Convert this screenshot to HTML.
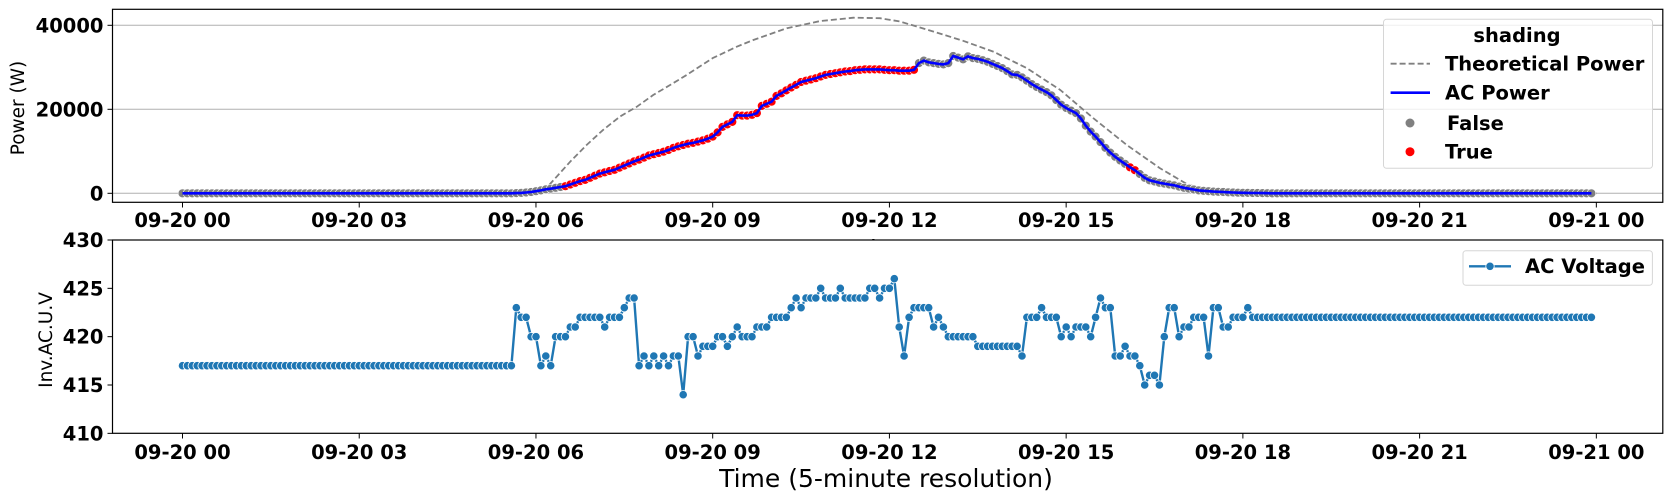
<!DOCTYPE html>
<html><head><meta charset="utf-8"><style>
html,body{margin:0;padding:0;background:#fff;}
svg{display:block;font-family:"DejaVu Sans","Liberation Sans",sans-serif;}
.tk{font-weight:bold;font-size:19.5px;fill:#000;}
</style></head>
<body>
<svg id="fig" width="1671" height="501" viewBox="0 0 1671 501">
<rect x="0" y="0" width="1671" height="501" fill="#fff"/>
<g id="topchart"></g>
<text x="886" y="258" text-anchor="middle" font-size="25">Time</text>
<g id="botchart"></g>
<text x="886" y="487" text-anchor="middle" font-size="25">Time (5-minute resolution)</text>
<text transform="translate(24,108) rotate(-90)" text-anchor="middle" font-size="18.5">Power (W)</text>
<text transform="translate(52,340) rotate(-90)" text-anchor="middle" font-size="18.5">Inv.AC.U.V</text>
</svg>
<script>
// ---- data (5-minute samples, index i -> hour i*5/60) ----
const xTickHours = [0, 3, 6, 9, 12, 15, 18, 21, 24];
const xTickLabels = ["09-20 00","09-20 03","09-20 06","09-20 09","09-20 12","09-20 15","09-20 18","09-20 21","09-21 00"];
const powerTicks = [0, 20000, 40000];
const voltTicks = [410, 415, 420, 425, 430];
const acPower = [
0,0,0,0,0,0,0,0,0,0,0,0,
0,0,0,0,0,0,0,0,0,0,0,0,
0,0,0,0,0,0,0,0,0,0,0,0,
0,0,0,0,0,0,0,0,0,0,0,0,
0,0,0,0,0,0,0,0,0,0,0,0,
0,0,0,0,0,0,0,0,50,100,200,300,
500,700,950,1100,1300,1500,1700,2100,2500,2900,3200,3700,
4200,4700,5000,5300,5600,6100,6600,7100,7600,8000,8500,9000,
9300,9600,9900,10300,10800,11200,11500,11800,12000,12300,12600,13000,
13500,14500,15800,16400,17000,18600,18500,18500,18700,19100,20800,21300,
21800,23200,23800,24500,25200,25800,26500,26800,27100,27400,27800,28200,
28400,28600,28800,29000,29100,29300,29400,29500,29500,29500,29500,29400,
29300,29300,29200,29200,29200,29400,31000,31600,31200,31000,30800,30700,
31000,32700,32300,31900,32600,32200,32000,31700,31300,30800,30300,29800,
29100,28300,28200,27600,26800,26000,25300,24700,24100,23300,22200,21100,
20300,19700,19100,17800,16100,14700,13500,12200,10800,9700,8700,7800,
7000,6200,5500,4600,3700,3100,2800,2500,2300,2100,1900,1600,
1300,1100,900,700,600,500,400,350,300,250,200,150,
120,100,80,60,40,20,0,0,0,0,0,0,
0,0,0,0,0,0,0,0,0,0,0,0,
0,0,0,0,0,0,0,0,0,0,0,0,
0,0,0,0,0,0,0,0,0,0,0,0,
0,0,0,0,0,0,0,0,0,0,0,0,
0,0,0,0,0,0,0,0,0,0,0,0];
const shading = [
0,0,0,0,0,0,0,0,0,0,0,0, 0,0,0,0,0,0,0,0,0,0,0,0,
0,0,0,0,0,0,0,0,0,0,0,0, 0,0,0,0,0,0,0,0,0,0,0,0,
0,0,0,0,0,0,0,0,0,0,0,0, 0,0,0,0,0,0,0,0,0,0,0,0,
0,0,0,0,0,0,1,1,1,1,1,1, 1,1,1,1,1,1,1,1,1,1,1,1,
1,1,1,1,1,1,1,1,1,1,1,1, 1,1,1,1,1,1,1,1,1,1,1,1,
1,1,1,1,1,1,1,1,1,1,1,1, 1,1,1,1,1,1,1,1,1,1,1,1,
1,1,1,1,1,1,0,0,0,0,0,0, 0,0,0,0,0,0,0,0,0,0,0,0,
0,0,0,0,0,0,0,0,0,0,0,0, 0,0,0,0,0,0,0,0,0,0,0,0,
0,1,1,0,0,0,0,0,0,0,0,0, 0,0,0,0,0,0,0,0,0,0,0,0,
0,0,0,0,0,0,0,0,0,0,0,0, 0,0,0,0,0,0,0,0,0,0,0,0,
0,0,0,0,0,0,0,0,0,0,0,0, 0,0,0,0,0,0,0,0,0,0,0,0];
const theoHours = [0,5.95,6.2,6.58,6.86,7.14,7.43,7.71,7.99,8.28,8.56,9.0,9.41,9.69,10.26,10.82,11.39,11.84,12.18,12.75,13.25,13.77,14.33,14.9,15.46,16.03,16.59,17.05,17.28,17.73,18.2,24];
const theoPower = [0,0,1600,7500,11500,15100,18300,20600,23400,25800,28200,32200,34900,36500,39300,41000,41800,41700,40900,38500,36300,33700,29800,24600,17900,11500,6000,2200,1200,240,0,0];
const voltage = [
417,417,417,417,417,417,417,417,417,417,417,417,
417,417,417,417,417,417,417,417,417,417,417,417,
417,417,417,417,417,417,417,417,417,417,417,417,
417,417,417,417,417,417,417,417,417,417,417,417,
417,417,417,417,417,417,417,417,417,417,417,417,
417,417,417,417,417,417,417,417,423,422,422,420,
420,417,418,417,420,420,420,421,421,422,422,422,
422,422,421,422,422,422,423,424,424,417,418,417,
418,417,418,417,418,418,414,420,420,418,419,419,
419,420,420,419,420,421,420,420,420,421,421,421,
422,422,422,422,423,424,423,424,424,424,425,424,
424,424,425,424,424,424,424,424,425,425,424,425,
425,426,421,418,422,423,423,423,423,421,422,421,
420,420,420,420,420,420,419,419,419,419,419,419,
419,419,419,418,422,422,422,423,422,422,422,420,
421,420,421,421,421,420,422,424,423,423,418,418,
419,418,418,417,415,416,416,415,420,423,423,420,
421,421,422,422,422,418,423,423,421,421,422,422,
422,423,422,422,422,422,422,422,422,422,422,422,
422,422,422,422,422,422,422,422,422,422,422,422,
422,422,422,422,422,422,422,422,422,422,422,422,
422,422,422,422,422,422,422,422,422,422,422,422,
422,422,422,422,422,422,422,422,422,422,422,422,
422,422,422,422,422,422,422,422,422,422,422,422];

// ---- axes functions ----
const NS = "http://www.w3.org/2000/svg";
const X0 = 182.5, PXH = 58.91;
function xH(h){ return X0 + h * PXH; }
function xI(i){ return xH(i * 5 / 60); }
function yP(p){ return 193.3 - p * 0.0042; }
function yV(v){ return 240 + (430 - v) * 9.667; }
const AXL = 112.5, AXR = 1662.8;
function mk(parent, tag, attrs){ const e = document.createElementNS(NS, tag); for (const k in attrs) e.setAttribute(k, attrs[k]); parent.appendChild(e); return e; }

const topG = document.getElementById('topchart');
const botG = document.getElementById('botchart');

// ---- TOP CHART ----
mk(topG,'rect',{x:AXL,y:9.3,width:AXR-AXL,height:193,fill:'#fff'});
powerTicks.forEach((p,k)=>{
  const g = mk(topG,'line',{x1:AXL,x2:AXR,y1:yP(p),y2:yP(p),stroke:'#b0b0b0','stroke-width':1});
  
  
  const t = mk(topG,'line',{x1:AXL-5,x2:AXL,y1:yP(p),y2:yP(p),stroke:'#000','stroke-width':1});
  
  
  const tx = mk(topG,'text',{x:AXL-9,y:yP(p)+7,'text-anchor':'end',class:'tk'});
  tx.textContent = String(p);
  
  
});
{
  const pts = theoHours.map((h,k)=> xH(h).toFixed(1)+','+yP(theoPower[k]).toFixed(1)).join(' ');
  const pl = mk(topG,'polyline',{points:pts,fill:'none',stroke:'#808080','stroke-width':1.8,'stroke-dasharray':'6,3','stroke-linejoin':'round'});
  
  
}
acPower.forEach((p,i)=>{
  const c = mk(topG,'circle',{cx:xI(i).toFixed(1),cy:yP(p).toFixed(1),r:4.4,fill:shading[i]?'#ff0000':'#808080',stroke:'#fff','stroke-width':0.6});
  
  
});
{
  const pts = acPower.map((p,i)=> xI(i).toFixed(1)+','+yP(p).toFixed(1)).join(' ');
  const pl = mk(topG,'polyline',{points:pts,fill:'none',stroke:'#0000ff','stroke-width':2.6,'stroke-linejoin':'round'});
  
  
}
mk(topG,'rect',{x:AXL,y:9.3,width:AXR-AXL,height:193,fill:'none',stroke:'#000','stroke-width':1.2});
xTickHours.forEach((h,k)=>{
  const t = mk(topG,'line',{x1:xH(h),x2:xH(h),y1:202.3,y2:207.5,stroke:'#000','stroke-width':1});
  
  
  const tx = mk(topG,'text',{x:xH(h),y:227,'text-anchor':'middle',class:'tk'});
  tx.textContent = xTickLabels[k];
  
  
});
{
  const lg = mk(topG,'g',{});
  
  
  mk(lg,'rect',{x:1383.5,y:19.3,width:269,height:149,rx:3,fill:'#fff','fill-opacity':0.8,stroke:'#d6d6d6','stroke-width':1});
  const tt = mk(lg,'text',{x:1517,y:42,'text-anchor':'middle',class:'tk'}); tt.textContent='shading';
   
  const l1 = mk(lg,'line',{x1:1390.6,x2:1430,y1:63.7,y2:63.7,stroke:'#808080','stroke-width':1.8,'stroke-dasharray':'6,3'});
   
  const t1 = mk(lg,'text',{x:1445,y:70.5,class:'tk'}); t1.textContent='Theoretical Power';
   
  const l2 = mk(lg,'line',{x1:1390.6,x2:1430,y1:92.7,y2:92.7,stroke:'#0000ff','stroke-width':2.6});
   
  const t2 = mk(lg,'text',{x:1445,y:99.5,class:'tk'}); t2.textContent='AC Power';
   
  const c1 = mk(lg,'circle',{cx:1410,cy:123,r:4.5,fill:'#808080'});
   
  const t3 = mk(lg,'text',{x:1447,y:130,class:'tk'}); t3.textContent='False';
   
  const c2 = mk(lg,'circle',{cx:1410,cy:151.7,r:4.5,fill:'#ff0000'});
   
  const t4 = mk(lg,'text',{x:1445,y:158.5,class:'tk'}); t4.textContent='True';
   
}

// ---- BOTTOM CHART ----
mk(botG,'rect',{x:AXL,y:240,width:AXR-AXL,height:193.3,fill:'#fff'});
voltTicks.forEach(v=>{
  const t = mk(botG,'line',{x1:AXL-5,x2:AXL,y1:yV(v),y2:yV(v),stroke:'#000','stroke-width':1});
  
  
  const tx = mk(botG,'text',{x:AXL-9,y:yV(v)+7,'text-anchor':'end',class:'tk'});
  tx.textContent = String(v);
  
  
});
{
  const pts = voltage.map((v,i)=> xI(i).toFixed(1)+','+yV(v).toFixed(1)).join(' ');
  const pl = mk(botG,'polyline',{points:pts,fill:'none',stroke:'#1f77b4','stroke-width':2.4,'stroke-linejoin':'round'});
  
  
}
voltage.forEach((v,i)=>{
  const c = mk(botG,'circle',{cx:xI(i).toFixed(1),cy:yV(v).toFixed(1),r:4.2,fill:'#1f77b4',stroke:'#fff','stroke-width':0.8});
  
  
});
mk(botG,'rect',{x:AXL,y:240,width:AXR-AXL,height:193.3,fill:'none',stroke:'#000','stroke-width':1.2});
xTickHours.forEach((h,k)=>{
  const t = mk(botG,'line',{x1:xH(h),x2:xH(h),y1:433.3,y2:438.5,stroke:'#000','stroke-width':1});
  
  
  const tx = mk(botG,'text',{x:xH(h),y:459,'text-anchor':'middle',class:'tk'});
  tx.textContent = xTickLabels[k];
  
  
});
{
  const lg = mk(botG,'g',{});
  
  
  mk(lg,'rect',{x:1463,y:250.7,width:189.4,height:34.6,rx:3,fill:'#fff','fill-opacity':0.8,stroke:'#d6d6d6','stroke-width':1});
  const l = mk(lg,'line',{x1:1469,x2:1511,y1:266.3,y2:266.3,stroke:'#1f77b4','stroke-width':2.4});
   
  const c = mk(lg,'circle',{cx:1490,cy:266.3,r:4.2,fill:'#1f77b4',stroke:'#fff','stroke-width':0.8});
   
  const t = mk(lg,'text',{x:1525,y:273,class:'tk'}); t.textContent='AC Voltage';
   
}
</script>
</body></html>
